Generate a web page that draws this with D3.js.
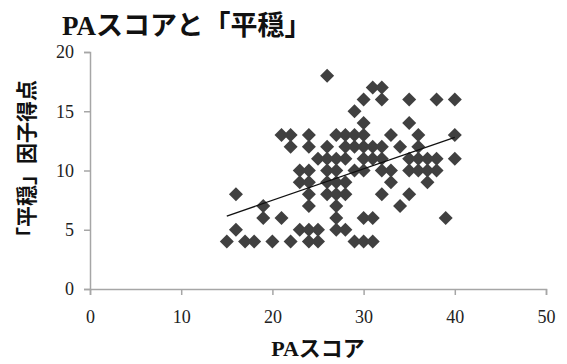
<!DOCTYPE html>
<html>
<head>
<meta charset="utf-8">
<script src="https://cdn.jsdelivr.net/npm/d3@7"></script>
<style>
  body { margin: 0; background: #fff; }
  text { font-family: "Liberation Serif", "Noto Sans CJK JP", serif; }
</style>
</head>
<body>
<div id="chart"></div>
<script>
// PA score (x) and 「平穏」 factor score (y), one entry per respondent
const paScore = [
  15, 16, 16, 17, 18, 19, 19, 20, 21, 21,
  22, 22, 22, 23, 23, 23, 24, 24, 24, 24,
  24, 24, 24, 24, 25, 25, 25, 26, 26, 26,
  26, 26, 26, 27, 27, 27, 27, 27, 27, 27,
  27, 28, 28, 28, 28, 28, 28, 29, 29, 29,
  29, 29, 30, 30, 30, 30, 30, 30, 30, 30,
  31, 31, 31, 31, 31, 32, 32, 32, 32, 32,
  32, 33, 33, 33, 34, 34, 35, 35, 35, 35,
  35, 36, 36, 36, 36, 37, 37, 37, 38, 38,
  38, 39, 40, 40, 40
];
const heionScore = [
  4, 8, 5, 4, 4, 7, 6, 4, 13, 6,
  4, 13, 12, 10, 9, 5, 13, 12, 10, 9,
  8, 7, 5, 4, 5, 4, 11, 18, 12, 11,
  10, 9, 8, 13, 11, 10, 9, 8, 7, 6,
  5, 13, 12, 11, 9, 8, 5, 15, 13, 12,
  10, 4, 16, 14, 13, 12, 11, 10, 6, 4,
  17, 12, 11, 6, 4, 17, 16, 12, 11, 10,
  8, 13, 10, 9, 12, 7, 16, 14, 11, 10,
  8, 13, 12, 11, 10, 11, 10, 9, 16, 11,
  10, 6, 16, 13, 11
];
const xTicks = [0, 10, 20, 30, 40, 50];
const yTicks = [0, 5, 10, 15, 20];

const width = 567;
const height = 364;

const points = paScore.map((x, i) => ({ x: x, y: heionScore[i] }));

const svg = d3.select('#chart')
  .append('svg')
  .attr('width', width)
  .attr('height', height)
  .style('background', '#fff');

const x = d3.scaleLinear().domain([0, 50]).range([90, 546]);
const y = d3.scaleLinear().domain([0, 20]).range([289, 52]);

// axes
const xAxis = svg.append('g')
  .attr('transform', `translate(0, ${y(0)})`)
  .call(d3.axisBottom(x).tickValues(xTicks).tickSize(6).tickPadding(15).tickSizeOuter(6));

const yAxis = svg.append('g')
  .attr('transform', `translate(${x(0)}, 0)`)
  .call(d3.axisLeft(y).tickValues(yTicks).tickSize(6).tickPadding(10).tickSizeOuter(6));

[xAxis, yAxis].forEach(a => {
  a.select('.domain').attr('stroke', '#a6a6a6').attr('stroke-width', 1.5);
  a.selectAll('.tick line').attr('stroke', '#a6a6a6').attr('stroke-width', 1.5);
  a.selectAll('.tick text')
    .attr('fill', '#222')
    .style('font-size', '18px');
});

// trend line (least squares)
const mx = d3.mean(points, d => d.x);
const my = d3.mean(points, d => d.y);
const slope = d3.sum(points, d => (d.x - mx) * (d.y - my)) / d3.sum(points, d => (d.x - mx) * (d.x - mx));
const intercept = my - slope * mx;
const [x0, x1] = d3.extent(points, d => d.x);

// diamonds
const diamond = d3.symbol(d3.symbolSquare, 98);
svg.append('g')
  .selectAll('path')
  .data(points)
  .enter().append('path')
  .attr('d', diamond)
  .attr('transform', d => `translate(${x(d.x)}, ${y(d.y)}) rotate(45)`)
  .attr('fill', '#404040');

svg.append('line')
  .attr('x1', x(x0))
  .attr('y1', y(intercept + slope * x0))
  .attr('x2', x(x1))
  .attr('y2', y(intercept + slope * x1))
  .attr('stroke', '#111')
  .attr('stroke-width', 1.3);

// titles
svg.append('text')
  .attr('x', 62)
  .attr('y', 35)
  .attr('font-size', 27)
  .attr('font-weight', 'bold')
  .attr('fill', '#111')
  .text('PAスコアと「平穏」');

svg.append('text')
  .attr('x', (x(0) + x(50)) / 2)
  .attr('y', 356)
  .attr('text-anchor', 'middle')
  .attr('font-size', 22)
  .attr('font-weight', 'bold')
  .attr('fill', '#111')
  .text('PAスコア');

svg.append('text')
  .attr('transform', 'translate(27, 164) rotate(-90)')
  .attr('text-anchor', 'middle')
  .attr('dominant-baseline', 'central')
  .attr('font-size', 21)
  .attr('font-weight', 'bold')
  .attr('fill', '#111')
  .text('「平穏」因子得点');
</script>
</body>
</html>
